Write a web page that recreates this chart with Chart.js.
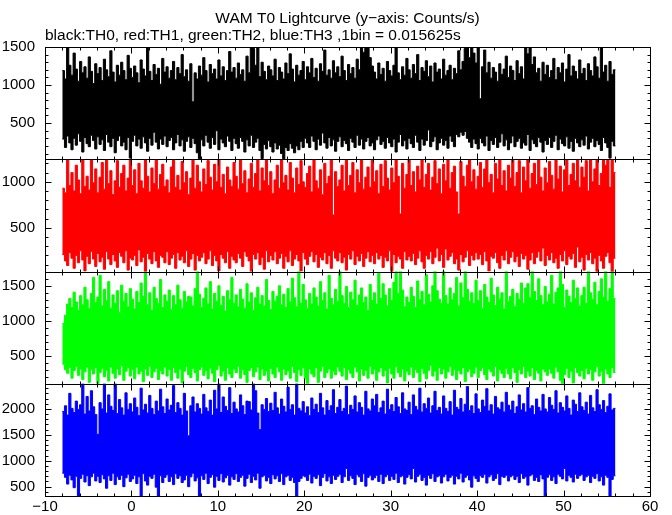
<!DOCTYPE html>
<html>
<head>
<meta charset="utf-8">
<script src="https://cdn.jsdelivr.net/npm/chart.js@4"></script>
<style>
  body { margin: 0; background: #fff; }
</style>
</head>
<body>
<canvas id="lc" width="672" height="515"></canvas>
<script>

// time bins: 0.25 s columns from -8 s (each column = min/max of the 1/64 s bins)
var binStart = -8;
var binWidth = 0.25;

var xTicks = [-10, 0, 10, 20, 30, 40, 50, 60];

// TH0 (black) column max / min, counts/s
var th0Max = [
  1190,1080,1500,1260,1130,1420,1210,1050,1310,1160,1240,1090,1370,1180,1020,1280,
  1150,1230,1060,1340,1200,1110,1450,1170,1040,1260,1130,1300,1190,1070,1390,1220,
  1100,1250,1160,1030,1330,1210,1120,1500,1180,1060,1270,1140,1220,1010,1350,1170,
  1240,1090,1190,1310,1070,1230,1150,1400,1110,1200,1050,1280,780,1160,1080,1250,
  1130,1360,1190,1040,1270,1150,1210,1080,1330,1120,1240,1060,1190,1440,1170,1230,
  1090,1290,1140,1200,1050,1380,1160,1500,1480,1260,1500,1110,1300,1180,1070,1250,
  1200,1120,1340,1060,1230,1170,1080,1290,1150,1410,1210,1040,1260,1130,1190,1310,
  1070,1240,1160,1350,1100,1220,1050,1280,1180,1460,1130,1200,1090,1320,1160,1240,
  1110,1380,1190,1060,1270,1150,1230,1090,1340,1200,1500,1430,1500,1500,1360,1250,
  1170,1080,1290,1140,1220,1050,1310,1190,1120,1260,1500,1160,1070,1240,1130,1350,
  1200,1090,1270,1150,1400,1060,1230,1180,1320,1110,1250,1040,1290,1170,1210,1080,
  1340,1130,1190,1260,1070,1220,1150,1450,1200,1310,1480,1500,1360,1500,1420,1290,
  1500,820,1240,1460,1160,1300,1090,1230,1170,1050,1280,1140,1210,1380,1100,1250,
  1190,1060,1320,1150,1240,1080,1500,1410,1500,1270,1370,1160,1220,1050,1300,1140,
  1260,1100,1190,1350,1070,1230,1160,1290,1040,1210,1400,1120,1250,1180,1080,1330,
  1150,1220,1060,1280,1190,1120,1370,1240,1090,1500,1170,1260,1050,1310,1140,1200
];
var th0Min = [
  290,180,330,240,150,300,210,360,260,120,310,230,190,340,270,160,
  320,220,280,140,350,250,190,300,110,270,330,200,250,150,310,40,
  260,340,200,290,170,320,240,130,300,210,380,250,160,290,220,330,
  190,270,310,150,240,350,200,280,130,260,320,180,300,230,110,30,
  280,200,340,250,170,310,220,400,150,290,240,190,330,260,140,300,
  230,170,310,260,120,280,200,340,180,250,300,140,35,220,160,270,
  190,120,240,160,210,100,30,180,140,230,170,110,200,150,260,180,
  300,240,180,330,260,150,290,210,370,240,170,310,200,280,130,260,
  320,190,270,230,140,300,250,180,340,210,290,160,260,310,200,240,
  150,280,330,220,260,170,310,240,190,290,120,250,350,200,270,160,
  300,230,180,340,250,140,290,210,270,410,190,260,320,150,240,300,
  210,270,170,330,260,190,350,320,380,340,390,300,250,180,290,230,
  160,300,240,200,330,140,270,220,310,180,250,360,200,280,150,240,
  330,190,260,300,170,240,210,350,140,280,230,190,310,250,120,270,
  220,310,180,260,340,150,290,230,200,320,170,260,130,300,240,190,
  280,210,330,160,250,300,190,270,220,140,310,240,180,40,260,200
];

// TH1 (red)
var th1Max = [
  930,880,1250,960,1100,900,1180,1020,870,1240,950,1060,910,1270,990,1140,
  880,1050,1210,920,1260,980,1120,860,1010,1230,940,1090,1180,900,1040,1250,
  960,1130,870,1200,1010,930,1270,1060,890,1150,980,1240,920,1080,1190,950,
  1020,880,1160,1250,940,1070,910,1220,990,1110,860,1040,1260,930,1180,1000,
  890,1140,970,1230,1050,910,1190,1000,1270,940,1080,870,1160,1020,950,1210,
  1060,920,1250,980,1120,880,1030,1200,940,1090,1260,900,1150,1010,1240,960,
  1110,870,1020,1180,930,1260,990,1070,910,1210,1040,880,1150,970,1230,1000,
  940,1090,1170,890,1250,1010,930,1130,860,1200,980,1060,1240,640,1110,950,
  1020,1180,900,1260,960,1070,1210,880,1130,990,1240,920,1050,1160,940,1270,
  1000,1120,870,1190,950,1230,1040,910,1150,990,1270,1060,650,1200,930,1080,
  1240,960,1110,890,1170,1020,1260,940,1080,1200,910,1050,1230,980,1140,870,
  1190,1010,1250,930,1100,1170,890,650,1220,1060,950,1180,1270,1000,1130,920,
  1060,1210,940,1140,1270,990,1080,880,1200,1030,1250,960,1120,900,1180,1040,
  1260,950,1100,1230,880,1160,1010,1270,930,1090,1200,970,1240,1050,900,1150,
  990,1220,1070,920,1260,1030,1170,890,1130,1240,960,1080,1200,1010,1270,940,
  1160,1050,1230,900,1270,1000,1140,1250,960,1090,1270,1180,1260,940,1240,1100
];
var th1Min = [
  210,140,90,230,170,60,200,120,250,150,30,190,110,240,160,80,
  220,130,180,50,240,160,100,210,140,70,230,190,120,250,40,170,
  150,200,90,260,130,180,20,220,160,110,240,140,70,200,180,120,
  240,100,170,210,60,230,150,190,120,250,80,160,220,40,200,140,
  180,230,110,160,250,90,200,140,30,210,170,120,240,60,190,150,
  120,220,170,80,240,190,140,10,210,160,230,100,180,50,250,130,
  200,150,240,110,170,220,60,190,130,250,90,160,210,140,30,230,
  160,100,190,240,130,210,70,180,150,230,110,200,60,250,170,140,
  230,120,180,40,210,160,250,100,190,140,220,80,170,240,130,200,
  110,230,160,200,70,180,140,250,20,210,120,190,160,60,240,150,
  190,140,220,100,170,250,130,60,200,160,240,110,180,280,140,210,
  70,270,150,190,230,110,160,40,210,130,180,250,90,200,150,230,
  160,210,100,240,140,30,190,170,230,120,60,200,150,250,110,180,
  240,130,190,80,220,160,200,50,150,230,110,180,240,140,280,90,
  200,150,230,120,170,60,210,140,250,100,190,160,220,70,290,130,
  180,40,210,150,230,110,170,20,200,140,60,190,230,120,10,170
];

// TH2 (green)
var th2Max = [
  960,1080,1240,1320,1190,1410,1270,1150,1360,1230,1480,1300,1180,1390,1620,1260,
  1340,1650,1210,1450,1290,1560,1180,1370,1250,1430,1120,1510,1280,1390,1200,1460,
  1310,1170,1420,1260,1540,1350,1690,1230,1400,1150,1480,1320,1250,1590,1190,1370,
  1280,1440,1160,1360,1230,1510,1300,1180,1420,1270,1350,1340,1210,1460,1730,1380,
  1190,1320,1470,1240,1560,1170,1390,1280,1500,1220,1350,1140,1430,1300,1620,1250,
  1370,1200,1450,1310,1180,1530,1270,1400,1150,1330,1480,1240,1360,1210,1590,1290,
  1160,1420,1280,1350,1500,1230,1380,1190,1460,1270,1610,1330,1200,1720,1250,1520,
  1300,1180,1390,1240,1470,1340,1210,1560,1290,1400,1170,1650,1320,1230,1450,1280,
  1730,1360,1250,1490,1190,1410,1300,1580,1220,1370,1470,1260,1340,1150,1520,1290,
  1400,1240,1680,1320,1530,1370,1210,1460,1290,1550,1730,1390,1720,1440,1200,1340,
  1260,1480,1350,1190,1570,1300,1420,1230,1660,1380,1270,1500,1730,1430,1310,1250,
  1720,1360,1240,1470,1300,1390,1620,1210,1540,1330,1730,1450,1280,1400,1250,1580,
  1290,1430,1180,1520,1340,1260,1610,1370,1220,1480,1310,1400,1170,1730,1280,1350,
  1450,1200,1390,1310,1540,1250,1470,1530,1330,1730,1420,1290,1600,1360,1230,1490,
  1270,1380,1650,1240,1410,1470,1730,1520,1190,1440,1350,1260,1580,1320,1470,1210,
  1360,1480,1250,1730,1400,1310,1550,1230,1420,1600,1340,1730,1280,1460,1730,1320
];
var th2Min = [
  380,300,250,330,180,290,350,220,310,160,270,340,120,300,240,330,
  90,260,320,200,290,140,340,250,180,310,230,360,150,280,330,210,
  300,170,340,240,280,130,310,220,350,190,270,320,160,290,240,340,
  210,300,150,330,260,180,310,110,280,350,230,190,320,260,140,300,
  340,220,290,170,320,250,130,300,360,210,280,150,330,240,190,310,
  260,350,180,300,230,120,290,330,200,270,340,160,310,220,280,140,
  320,240,190,340,270,150,310,230,290,180,350,260,130,300,220,330,
  170,85,310,240,200,330,120,280,350,190,260,310,180,270,230,340,
  280,210,330,160,300,250,190,340,270,140,310,220,290,180,350,240,
  300,150,270,330,210,290,110,320,240,180,350,260,200,310,140,280,
  230,340,190,300,260,130,320,250,170,290,360,210,280,150,330,240,
  310,180,270,350,220,300,160,290,240,330,130,270,310,200,250,340,
  190,290,330,230,160,310,270,210,350,140,300,250,190,320,240,170,
  330,260,120,300,240,350,190,280,210,330,160,290,250,140,310,270,
  220,310,250,180,340,270,150,85,230,320,190,280,110,330,260,210,
  290,170,320,240,300,150,270,350,210,280,90,310,240,190,330,260
];

// TH3 (blue)
var th3Max = [
  1950,2060,1880,2300,2010,1930,2150,1990,2080,2490,1900,2240,1960,2350,2040,1890,
  1510,2120,2000,2490,1920,2270,2050,1970,2490,1910,2180,2020,1880,2310,1990,2100,
  1940,2210,2030,1870,2400,1980,2090,1920,2260,2010,1890,2150,1960,2380,2040,1910,
  2190,1980,2070,2450,1930,2120,2010,1880,2300,1960,1480,2060,2230,1940,2100,2010,
  1900,2280,2020,1950,2170,1880,2360,2000,2490,1930,2230,2050,1970,2410,1910,2130,
  2000,1940,2270,2060,1890,2150,2140,1980,2490,2350,1920,1600,2080,1990,2200,1950,
  2110,1970,2320,2020,1900,2190,2050,1940,2420,1990,2080,1880,2490,2010,1960,2140,
  1920,2040,1870,2210,1990,2090,1930,2300,2020,1880,2160,1970,2060,2370,1910,2030,
  2180,1950,2010,2440,1890,2070,1990,2250,1940,2120,2030,1880,2340,2000,1960,2190,
  2060,2280,1930,2020,2150,1900,2380,1990,2080,1950,2220,2040,1910,2310,2000,1970,
  2130,1890,2270,2050,1980,2400,1940,2100,2010,2210,1920,2060,2340,1970,2030,1900,
  2250,2010,1950,2140,1880,2360,2030,1990,2200,1940,2090,2430,1970,2060,1910,2290,
  2000,1930,2170,2050,2390,1960,2080,1900,2240,2020,1990,2130,1940,2320,2070,1980,
  2150,1910,2040,2270,1980,2100,1940,2410,2010,2060,1890,2190,2030,1960,2280,2000,
  1940,2220,2070,1990,2350,1920,2120,2030,1960,2250,2010,1880,2170,2090,1950,2310,
  2040,1970,2130,1900,2260,2020,1950,2370,2080,1990,2160,1930,2050,2290,1980,2010
];
var th3Min = [
  760,680,550,720,630,480,700,320,660,740,590,710,520,690,760,610,
  700,580,730,650,470,710,620,760,540,690,640,720,500,670,740,600,
  650,720,560,690,300,750,610,530,700,660,740,490,310,710,580,680,
  730,600,690,540,750,660,710,580,630,720,500,690,760,610,670,300,
  710,640,760,560,680,730,490,700,620,750,590,670,720,530,690,640,
  750,600,680,720,510,660,740,580,700,630,760,470,690,720,610,680,
  560,730,650,710,600,750,540,690,720,620,680,580,310,600,660,710,
  690,620,740,570,700,660,730,520,680,750,610,690,560,720,640,700,
  740,580,690,850,620,710,660,540,730,690,600,750,510,680,720,630,
  670,720,600,740,560,690,730,620,700,640,760,580,690,710,550,680,
  730,650,850,590,700,740,620,680,530,720,660,750,600,690,710,570,
  690,740,610,680,720,550,700,650,760,590,680,720,630,490,710,660,
  600,710,680,740,570,690,730,620,660,750,540,700,680,720,610,690,
  720,640,700,580,750,660,690,530,710,740,620,680,600,730,650,310,
  680,730,620,690,560,740,700,650,850,610,720,680,590,740,660,710,
  740,620,690,720,580,700,660,750,610,690,530,720,680,300,640,710
];

// y tick labels of each panel
var th0Ticks = [500, 1000, 1500];
var th1Ticks = [500, 1000];
var th2Ticks = [500, 1000, 1500];
var th3Ticks = [500, 1000, 1500, 2000];

// y ranges of the four panels, top to bottom
var panelIds = ['yBlack', 'yRed', 'yGreen', 'yBlue'];
var panelMin = [25, 25, 100, 320];
var panelMax = [1500, 1245, 1705, 2485];
var panelColors = ['#000000', '#ff0000', '#00ff00', '#0000ff'];
var panelHi = [th0Max, th1Max, th2Max, th3Max];
var panelLo = [th0Min, th1Min, th2Min, th3Min];
var panelTicks = [th0Ticks, th1Ticks, th2Ticks, th3Ticks];

var FONT = { family: '"Liberation Sans", Arial, Helvetica, sans-serif', size: 15 };

function toPoints(vals) {
  var pts = vals.map(function (v, i) { return { x: binStart + i * binWidth, y: v }; });
  // closing edge of last bin (stepped line)
  pts.push({ x: binStart + vals.length * binWidth, y: vals[vals.length - 1] });
  return pts;
}

var datasets = [];
for (var p = 0; p < 4; p++) {
  datasets.push({
    data: toPoints(panelHi[p]),
    yAxisID: panelIds[p],
    borderColor: panelColors[p],
    backgroundColor: panelColors[p],
    borderWidth: 1,
    pointRadius: 0,
    stepped: true,
    fill: false
  });
  datasets.push({
    data: toPoints(panelLo[p]),
    yAxisID: panelIds[p],
    borderColor: panelColors[p],
    backgroundColor: panelColors[p],
    borderWidth: 1,
    pointRadius: 0,
    stepped: true,
    fill: '-1'
  });
}

function fixedTicks(list) {
  return function (s) { s.ticks = list.map(function (v) { return { value: v }; }); };
}

function plainLabel(v) {
  return String(v).replace('-', '\u2212');
}

function yAxis(p) {
  return {
    type: 'linear',
    position: 'left',
    stack: 'lc',
    stackWeight: 1,
    min: panelMin[p],
    max: panelMax[p],
    grid: { display: false, drawTicks: false },
    border: { display: false },
    ticks: { font: FONT, color: '#000', padding: 10, callback: plainLabel },
    afterBuildTicks: fixedTicks(panelTicks[p]),
    afterFit: function (s) { s.width = 45; }
  };
}

// inward ticks + frames on every panel
var frameTicks = {
  id: 'frameTicks',
  afterDatasetsDraw: function (chart) {
    var ctx = chart.ctx, xs = chart.scales.x;
    ctx.save();
    ctx.strokeStyle = '#000';
    ctx.lineWidth = 1;
    function seg(x1, y1, x2, y2) {
      ctx.beginPath(); ctx.moveTo(x1, y1); ctx.lineTo(x2, y2); ctx.stroke();
    }
    panelIds.forEach(function (id) {
      var ys = chart.scales[id];
      var l = Math.round(xs.left) + 0.5, r = Math.round(xs.right) + 0.5;
      var t = Math.round(ys.top) + 0.5, b = Math.round(ys.bottom) + 0.5;
      ctx.strokeRect(l, t, r - l, b - t);
      for (var v = xs.min; v <= xs.max; v += 2) {
        var px = Math.round(xs.getPixelForValue(v)) + 0.5;
        var len = (v % 10 === 0) ? 6 : 3;
        seg(px, b, px, b - len);
        seg(px, t, px, t + len);
      }
      for (var w = Math.ceil(ys.min / 100) * 100; w <= ys.max; w += 100) {
        var py = Math.round(ys.getPixelForValue(w)) + 0.5;
        var ln = (w % 500 === 0) ? 6 : 3;
        seg(l, py, l + ln, py);
        seg(r, py, r - ln, py);
      }
    });
    ctx.restore();
  }
};

var scales = {
  x: {
    type: 'linear',
    position: 'bottom',
    min: xTicks[0],
    max: xTicks[xTicks.length - 1],
    grid: { display: false, drawTicks: false },
    border: { display: false },
    ticks: { font: FONT, color: '#000', padding: 2, maxRotation: 0, autoSkip: false, callback: plainLabel },
    afterBuildTicks: fixedTicks(xTicks),
    afterFit: function (s) { s.height = 19; }
  }
};
// bottom panel first: the last left axis is stacked on top
for (var q = 3; q >= 0; q--) scales[panelIds[q]] = yAxis(q);

new Chart(document.getElementById('lc'), {
  type: 'line',
  data: { datasets: datasets },
  options: {
    responsive: false,
    devicePixelRatio: 1,
    animation: false,
    events: [],
    layout: { padding: { left: 0, right: 22, top: 0, bottom: 0 } },
    scales: scales,
    plugins: {
      legend: { display: false },
      tooltip: { enabled: false },
      title: {
        display: true,
        text: 'WAM T0 Lightcurve (y\u2212axis: Counts/s)',
        fullSize: false,
        color: '#000',
        font: { family: FONT.family, size: 15.5, weight: 'normal', lineHeight: 1 },
        padding: { top: 11, bottom: 0 }
      },
      subtitle: {
        display: true,
        text: 'black:TH0, red:TH1, green:TH2, blue:TH3 ,1bin = 0.015625s',
        fullSize: false,
        align: 'start',
        color: '#000',
        font: { family: FONT.family, size: 15.5, weight: 'normal', lineHeight: 1 },
        padding: { top: 1, bottom: 4 }
      }
    }
  },
  plugins: [frameTicks]
});
</script>
</body>
</html>
